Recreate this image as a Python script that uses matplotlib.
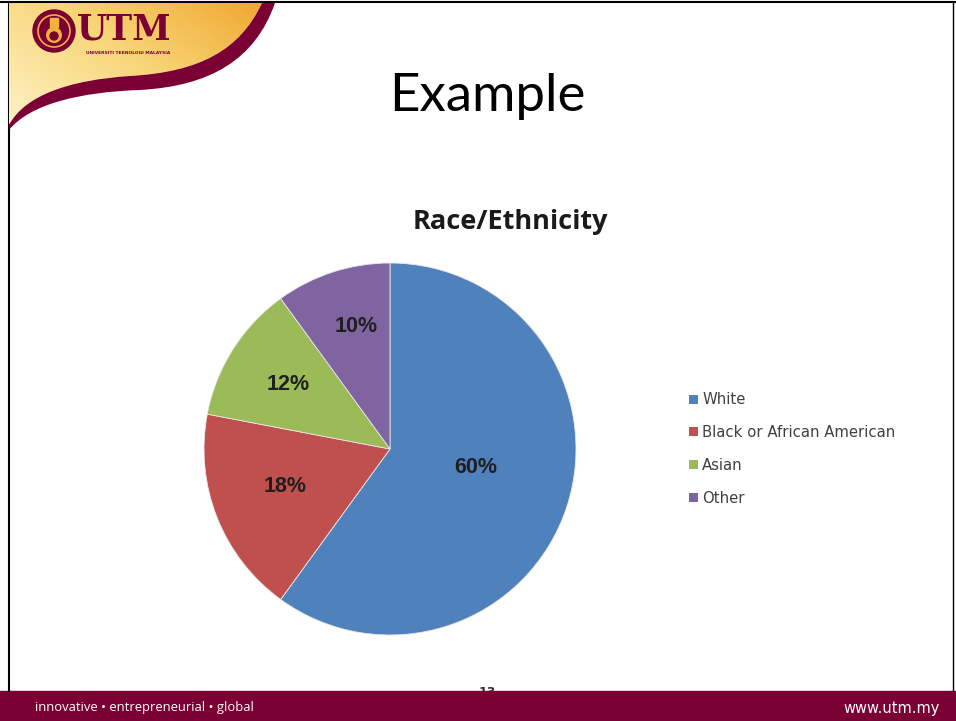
import numpy as np
import matplotlib.pyplot as plt
from matplotlib.path import Path
from matplotlib.patches import PathPatch, Rectangle, Circle
from matplotlib.colors import LinearSegmentedColormap

# Data
categories = ["White", "Black or African American", "Asian", "Other"]
shares = [60, 18, 12, 10]
colors = ["#4f81bd", "#c0504d", "#9bbb59", "#8064a2"]
chart_title = "Race/Ethnicity"
slide_title = "Example"
footer_left = "innovative \u2022 entrepreneurial \u2022 global"
footer_right = "www.utm.my"
page_no = "13"

W, H = 956, 721
fig = plt.figure(figsize=(W / 100, H / 100), dpi=100)
fig.patch.set_facecolor("white")

# background axes in pixel coordinates
bg = fig.add_axes([0, 0, 1, 1])
bg.set_xlim(0, W)
bg.set_ylim(H, 0)
bg.axis("off")

maroon = "#7b0033"

# footer bar
bg.add_patch(Rectangle((0, 691), W, 30, color=maroon, zorder=2))
bg.text(35, 708, footer_left, color="white", fontsize=9.4, family="Open Sans",
        va="center", ha="left", zorder=3)
bg.text(940, 708, footer_right, color="white", fontsize=10.5, family="DejaVu Sans",
        va="center", ha="right", zorder=3)
bg.text(487, 693, page_no, color="#333333", fontsize=9, fontweight="bold",
        va="center", ha="center", zorder=1)

# slide frame
bg.plot([9, 9], [2, 691], color="black", lw=1.5)
bg.plot([0, W], [2, 2], color="black", lw=1.5)
bg.plot([953, 953], [2, 691], color="black", lw=1.0)

# logo swoosh
verts = [(9, 3), (262, 3),
         (240, 50), (200, 72), (130, 76),
         (70, 80), (25, 95), (9, 125),
         (9, 3)]
codes = [Path.MOVETO, Path.LINETO,
         Path.CURVE4, Path.CURVE4, Path.CURVE4,
         Path.CURVE4, Path.CURVE4, Path.CURVE4,
         Path.CLOSEPOLY]
gold = PathPatch(Path(verts, codes), facecolor="none", edgecolor="none")
bg.add_patch(gold)
gx, gy = np.meshgrid(np.linspace(0, 1, 200), np.linspace(0, 1, 100))
grad = np.clip(0.6 * gx + 0.4 * (1 - gy), 0, 1)
cmap = LinearSegmentedColormap.from_list("gold", ["#fdf1c4", "#f8d77a", "#f0a830"])
im = bg.imshow(grad, extent=(9, 262, 125, 3), cmap=cmap, zorder=2, aspect="auto")
im.set_clip_path(gold)

# maroon swoosh band
band_v = [(262, 3), (240, 50), (200, 72), (130, 76),
          (70, 80), (25, 95), (9, 125),
          (9, 130), (30, 104), (80, 92), (140, 90),
          (210, 86), (255, 60), (275, 3), (262, 3)]
band_c = [Path.MOVETO, Path.CURVE4, Path.CURVE4, Path.CURVE4,
          Path.CURVE4, Path.CURVE4, Path.CURVE4,
          Path.LINETO, Path.CURVE4, Path.CURVE4, Path.CURVE4,
          Path.CURVE4, Path.CURVE4, Path.CURVE4, Path.CLOSEPOLY]
bg.add_patch(PathPatch(Path(band_v, band_c), facecolor=maroon, edgecolor="none", zorder=3))

# emblem
bg.add_patch(Circle((54, 31), 21, color=maroon, zorder=4))
bg.add_patch(Circle((54, 31), 16, facecolor="none", edgecolor="#f2b23a", lw=1.2, zorder=5))
bg.add_patch(Circle((54, 35), 8, facecolor="#f2b23a", edgecolor="none", zorder=5))
bg.add_patch(Circle((54, 36), 4, color=maroon, zorder=6))
bg.add_patch(Rectangle((50, 18), 8, 9, color="#f2b23a", zorder=5))
bg.text(124, 29, "UTM", family="DejaVu Serif", fontweight="bold", fontsize=25,
        color=maroon, ha="center", va="center", zorder=5)
bg.text(128, 53, "UNIVERSITI TEKNOLOGI MALAYSIA", fontsize=3.2, fontweight="bold",
        color=maroon, ha="center", va="center", zorder=5)

# slide title
bg.text(487, 97, slide_title, family="Lato", fontsize=38, color="black",
        ha="center", va="center")

# chart title
bg.text(510, 222, chart_title, family="Open Sans", fontweight="bold", fontsize=19.5,
        color="#1a1a1a", ha="center", va="center")

# pie
cx, cy, r = 390, 449, 186
ax = fig.add_axes([(cx - r) / W, 1 - (cy + r) / H, 2 * r / W, 2 * r / H])
wedges, texts, autotexts = ax.pie(
    shares, colors=colors, startangle=90, counterclock=False,
    autopct="%d%%", pctdistance=0.65,
    wedgeprops=dict(edgecolor="#e8e8e8", linewidth=0.6),
    textprops=dict(fontsize=15.5, fontweight="bold", color="#1f1f1f",
                   family="Liberation Sans"))
ax.set_xlim(-1, 1)
ax.set_ylim(-1, 1)
ax.set_aspect("equal")
ax.axis("off")
# move biggest slice label closer to the centre, like Excel
big = int(np.argmax(shares))
x, y = autotexts[big].get_position()
autotexts[big].set_position((x * 0.75, y * 0.75 + 0.05))
# nudge the smaller slice labels a little
x, y = autotexts[1].get_position()
autotexts[1].set_position((x + 0.04, y + 0.04))
x, y = autotexts[-1].get_position()
autotexts[-1].set_position((x + 0.02, y + 0.04))

# legend
leg = bg.legend(wedges, categories, loc="upper left",
                bbox_to_anchor=(676 / W, 1 - 379 / H), frameon=False,
                handlelength=0.55, handleheight=0.55, handletextpad=0.3,
                labelspacing=1.2, prop=dict(family="DejaVu Sans", size=10.7))
for t in leg.get_texts():
    t.set_color("#404040")
for h in leg.legend_handles:
    h.set_edgecolor("none")

fig.savefig("out.png", dpi=100)
